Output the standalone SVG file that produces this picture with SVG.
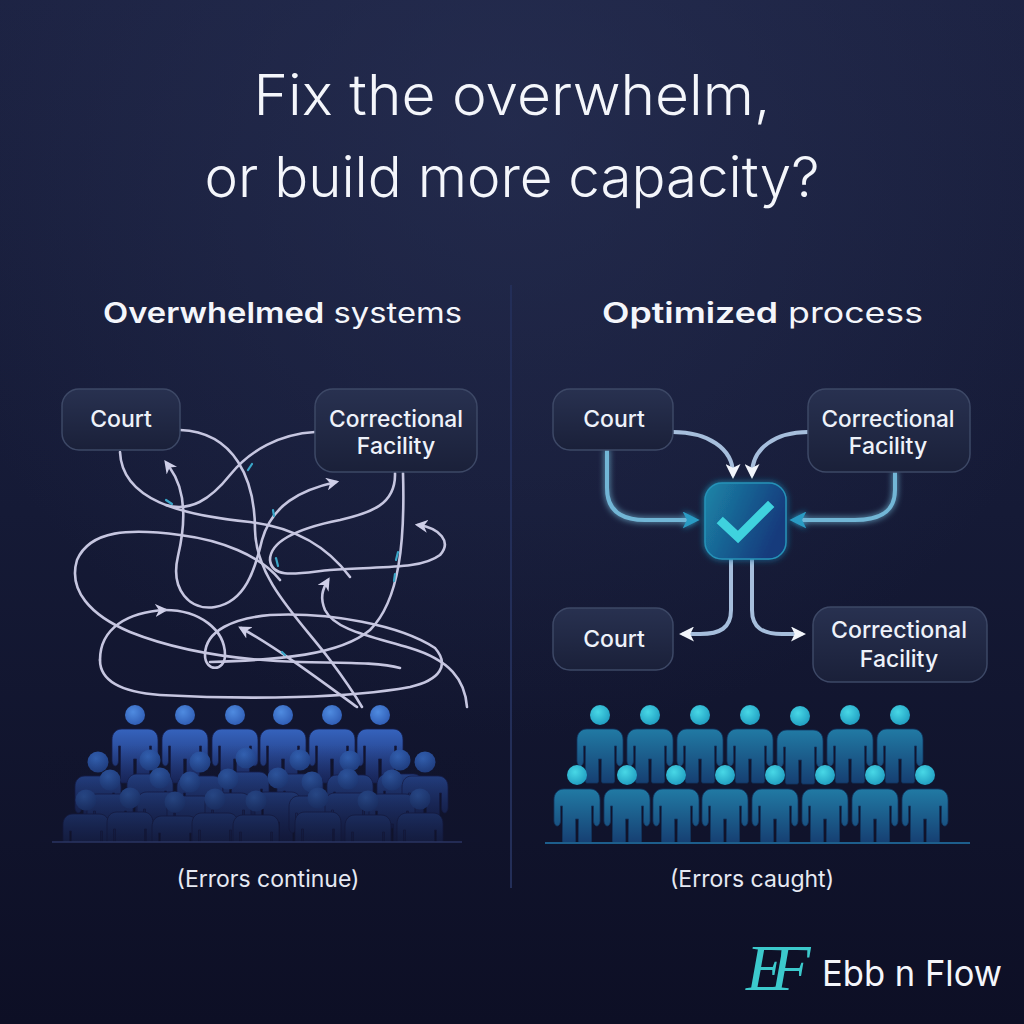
<svg xmlns="http://www.w3.org/2000/svg" width="1024" height="1024" viewBox="0 0 1024 1024">
<defs>
<style>
.ttl{font-family:Inter,"Liberation Sans",sans-serif;font-weight:300;fill:#f4f6fb;text-anchor:middle}
.hdr{font-family:Inter,"Liberation Sans",sans-serif;font-size:28px;fill:#f4f6fb}
.lbl{font-family:Inter,"Liberation Sans",sans-serif;font-size:23px;font-weight:500;fill:#eef2fa;text-anchor:middle}
.cap{font-family:Inter,"Liberation Sans",sans-serif;font-size:23px;fill:#e6e9f3;text-anchor:middle}
.box{fill:url(#gBox);stroke:#3d4866;stroke-width:1.5}
.tg{fill:none;stroke:#c6c6e0;stroke-width:2.6;stroke-linecap:round}
.tq{fill:none;stroke:#3aa6c8;stroke-width:2.2;stroke-linecap:round}
.cw{fill:none;stroke:#a6bedc;stroke-width:4;stroke-linecap:round}
.ct{fill:none;stroke:#72b6d6;stroke-width:4;stroke-linecap:round}
</style>
<linearGradient id="gBg" x1="0" y1="0" x2="0" y2="1">
<stop offset="0" stop-color="#1c2242"/><stop offset="0.5" stop-color="#151a36"/><stop offset="1" stop-color="#0d0f25"/>
</linearGradient>
<radialGradient id="gGlow" cx="0.5" cy="0.12" r="0.6">
<stop offset="0" stop-color="#2a3358" stop-opacity="0.55"/><stop offset="1" stop-color="#2a3358" stop-opacity="0"/>
</radialGradient>
<linearGradient id="gBox" x1="0" y1="0" x2="0" y2="1">
<stop offset="0" stop-color="#283150"/><stop offset="1" stop-color="#1a2039"/>
</linearGradient>
<linearGradient id="gChk" x1="0" y1="0" x2="1" y2="0.4">
<stop offset="0" stop-color="#1c86a8"/><stop offset="1" stop-color="#143a7c"/>
</linearGradient>
<linearGradient id="gBodyL" x1="0" y1="0" x2="0" y2="1">
<stop offset="0" stop-color="#3563bd"/><stop offset="1" stop-color="#1a2a66"/>
</linearGradient>
<radialGradient id="gHeadL" cx="0.4" cy="0.35" r="0.7">
<stop offset="0" stop-color="#4f8be0"/><stop offset="1" stop-color="#2f5cb4"/>
</radialGradient>
<linearGradient id="gBodyS" x1="0" y1="0" x2="0" y2="1">
<stop offset="0" stop-color="#284a96"/><stop offset="1" stop-color="#17235a"/>
</linearGradient>
<radialGradient id="gHeadS" cx="0.4" cy="0.35" r="0.7">
<stop offset="0" stop-color="#3566ba"/><stop offset="1" stop-color="#22448e"/>
</radialGradient>
<linearGradient id="gBodyR" x1="0" y1="0" x2="0" y2="1">
<stop offset="0" stop-color="#217aa4"/><stop offset="1" stop-color="#163f72"/>
</linearGradient>
<radialGradient id="gHeadR" cx="0.4" cy="0.35" r="0.7">
<stop offset="0" stop-color="#48d8e6"/><stop offset="1" stop-color="#1f9cc0"/>
</radialGradient>
<linearGradient id="gFade" x1="0" y1="0" x2="0" y2="1">
<stop offset="0" stop-color="#10132c" stop-opacity="0"/><stop offset="1" stop-color="#10132c" stop-opacity="0.75"/>
</linearGradient>
<filter id="glow" x="-30%" y="-30%" width="160%" height="160%">
<feGaussianBlur stdDeviation="3" result="b"/>
<feMerge><feMergeNode in="b"/><feMergeNode in="SourceGraphic"/></feMerge>
</filter>
<path id="body" d="M-13,14 C-19,14 -23,18 -23,25 L-23,46 C-23,49 -21,51 -19.8,51 C-18.3,51 -16.5,49 -16.5,46 L-16.5,31 L-14.5,31 L-14.5,66 C-14.5,67 -14,68 -13,68 L-3,68 C-2,68 -1.5,67 -1.5,66 L-1.5,44 L1.5,44 L1.5,66 C1.5,67 2,68 3,68 L13,68 C14,68 14.5,67 14.5,66 L14.5,31 L16.5,31 L16.5,46 C16.5,49 18.3,51 19.8,51 C21,51 23,49 23,46 L23,25 C23,18 19,14 13,14 Z"/>
<g id="figL"><use href="#body" fill="url(#gBodyL)" stroke="#16204c" stroke-width="0.8"/><circle r="10" fill="url(#gHeadL)"/></g>
<g id="figS"><use href="#body" fill="url(#gBodyS)" stroke="#162050" stroke-width="0.8"/><circle r="10.5" fill="url(#gHeadS)"/></g>
<g id="figR"><use href="#body" fill="url(#gBodyR)" stroke="#123660" stroke-width="0.8"/><circle r="10" fill="url(#gHeadR)"/></g>
<clipPath id="clipL"><rect x="40" y="690" width="440" height="152"/></clipPath>
<marker id="mL" viewBox="0 0 12 12" refX="9" refY="6" markerWidth="13" markerHeight="13" orient="auto" markerUnits="userSpaceOnUse"><path d="M0,0 L12,6 L0,12 L3.5,6 Z" fill="#cfcfe8"/></marker>
<marker id="mLs" viewBox="0 0 12 12" refX="3" refY="6" markerWidth="13" markerHeight="13" orient="auto-start-reverse" markerUnits="userSpaceOnUse"><path d="M0,0 L12,6 L0,12 L3.5,6 Z" fill="#cfcfe8"/></marker>
<marker id="mW" viewBox="0 0 12 12" refX="8" refY="6" markerWidth="15" markerHeight="15" orient="auto" markerUnits="userSpaceOnUse"><path d="M0,0 L12,6 L0,12 L3,6 Z" fill="#f2f5fb"/></marker>
<marker id="mT" viewBox="0 0 12 12" refX="8" refY="6" markerWidth="17" markerHeight="17" orient="auto" markerUnits="userSpaceOnUse"><path d="M0,0 L12,6 L0,12 L3,6 Z" fill="#2a9cc4"/></marker>
</defs>

<rect width="1024" height="1024" fill="url(#gBg)"/>
<rect width="1024" height="1024" fill="url(#gGlow)"/>

<g id="title">
<text class="ttl" x="512" y="115" font-size="56" textLength="517" lengthAdjust="spacingAndGlyphs">Fix the overwhelm,</text>
<text class="ttl" x="512" y="197" font-size="56" textLength="615" lengthAdjust="spacingAndGlyphs">or build more capacity?</text>
</g>

<line id="divider" x1="511" y1="285" x2="511" y2="888" stroke="#232e58" stroke-width="2"/>

<g id="headers">
<text class="hdr" x="103" y="323" textLength="359" lengthAdjust="spacingAndGlyphs"><tspan font-weight="600">Overwhelmed</tspan> systems</text>
<text class="hdr" x="602" y="323" textLength="321" lengthAdjust="spacingAndGlyphs"><tspan font-weight="600">Optimized</tspan> process</text>
</g>

<!-- LEFT: tangled connectors -->
<g id="connectors-left">
<path class="tg" d="M120,452 C122,500 180,515 250,522 C300,528 330,550 350,577"/>
<path class="tg" d="M180,430 C235,432 255,480 255,530 C256,580 300,620 330,660 C345,680 355,695 362,707"/>
<path class="tg" d="M315,432 C280,434 250,450 230,475 C210,500 190,512 166,505"/>
<path class="tg" marker-start="url(#mLs)" marker-end="url(#mL)" d="M170,468 C186,490 186,522 178,556 C170,590 190,611 215,607 C245,602 255,570 262,540 C272,505 300,490 336,482"/>
<path class="tg" marker-end="url(#mL)" d="M395,473 C396,505 370,513 340,520 C300,528 270,540 270,560 C272,580 300,573 330,570 C380,566 420,570 440,555 C452,542 440,528 418,525"/>
<path class="tg" d="M403,473 C405,540 400,600 370,630 C340,655 280,660 210,662"/>
<path class="tg" d="M280,580 C260,555 220,540 180,535 C130,528 90,530 77,560 C68,590 90,615 130,632 C175,650 230,660 300,662 C340,663 380,662 400,668"/>
<path class="tg" marker-end="url(#mL)" d="M100,660 C100,628 128,612 165,610"/>
<path class="tg" d="M165,610 C200,610 225,630 225,655 C225,672 205,672 205,655 C205,630 235,618 270,615 C330,612 400,625 435,648 C450,665 440,680 410,687 C350,698 250,700 160,695 C120,692 100,680 100,660"/>
<path class="tg" marker-end="url(#mL)" d="M357,707 C320,680 280,650 241,628"/>
<path class="tg" marker-end="url(#mL)" d="M467,707 C465,680 450,660 410,648 C370,636 335,630 325,610 C320,598 322,590 328,580"/>
<path class="tq" d="M248,470 l4,-6"/>
<path class="tq" d="M166,500 l6,4"/>
<path class="tq" d="M273,510 l1,6"/>
<path class="tq" d="M276,558 l2,8"/>
<path class="tq" d="M398,552 l-2,8"/>
<path class="tq" d="M395,574 l-1,7"/>
<path class="tq" d="M282,652 l3,3"/>
</g>

<!-- LEFT nodes -->
<g id="node-court-left">
<rect class="box" x="62" y="389" width="118" height="61" rx="17"/>
<text class="lbl" x="121" y="427">Court</text>
</g>
<g id="node-correctional-left">
<rect class="box" x="315" y="389" width="162" height="83" rx="18"/>
<text class="lbl" x="396" y="427" textLength="134" lengthAdjust="spacingAndGlyphs">Correctional</text>
<text class="lbl" x="396" y="454">Facility</text>
</g>

<!-- LEFT crowd -->
<g id="crowd-left" clip-path="url(#clipL)">
<use href="#figL" x="135" y="715"/>
<use href="#figL" x="185" y="715"/>
<use href="#figL" x="235" y="715"/>
<use href="#figL" x="283" y="715"/>
<use href="#figL" x="332" y="715"/>
<use href="#figL" x="380" y="715"/>
<use href="#figS" x="98" y="762"/>
<use href="#figS" x="150" y="760"/>
<use href="#figS" x="200" y="762"/>
<use href="#figS" x="246" y="758"/>
<use href="#figS" x="300" y="760"/>
<use href="#figS" x="350" y="761"/>
<use href="#figS" x="400" y="760"/>
<use href="#figS" x="425" y="762"/>
<use href="#figS" x="110" y="780"/>
<use href="#figS" x="160" y="778"/>
<use href="#figS" x="190" y="782"/>
<use href="#figS" x="228" y="779"/>
<use href="#figS" x="278" y="778"/>
<use href="#figS" x="312" y="782"/>
<use href="#figS" x="348" y="779"/>
<use href="#figS" x="392" y="780"/>
<use href="#figS" x="86" y="800"/>
<use href="#figS" x="130" y="798"/>
<use href="#figS" x="175" y="802"/>
<use href="#figS" x="215" y="799"/>
<use href="#figS" x="256" y="801"/>
<use href="#figS" x="318" y="798"/>
<use href="#figS" x="368" y="801"/>
<use href="#figS" x="420" y="799"/>
<rect x="40" y="745" width="440" height="97" fill="url(#gFade)"/>
</g>
<line x1="52" y1="842" x2="462" y2="842" stroke="#2a3462" stroke-width="1.5"/>

<!-- RIGHT connectors -->
<g id="connectors-right">
<path class="cw" marker-end="url(#mW)" d="M673,432 C707,432 733,448 733,474"/>
<path class="cw" marker-end="url(#mW)" d="M808,432 C776,432 752,448 752,474"/>
<path class="ct" filter="url(#glow)" marker-end="url(#mT)" d="M607,450 L607,488 C607,510 620,520 645,520 L694,520"/>
<path class="ct" filter="url(#glow)" marker-end="url(#mT)" d="M895,472 L895,490 C895,512 880,520 855,520 L795,520"/>
<path class="cw" marker-end="url(#mW)" d="M731,559 L731,610 C731,628 720,634 700,634 L684,634"/>
<path class="cw" marker-end="url(#mW)" d="M752,559 L752,610 C752,628 763,634 782,634 L801,634"/>
</g>

<!-- RIGHT nodes -->
<g id="node-court-right">
<rect class="box" x="553" y="389" width="120" height="61" rx="17"/>
<text class="lbl" x="614" y="427">Court</text>
</g>
<g id="node-correctional-right">
<rect class="box" x="808" y="389" width="162" height="83" rx="18"/>
<text class="lbl" x="888" y="427" textLength="133" lengthAdjust="spacingAndGlyphs">Correctional</text>
<text class="lbl" x="888" y="454">Facility</text>
</g>
<g id="node-check">
<rect x="705" y="483" width="81" height="76" rx="17" fill="url(#gChk)" stroke="#2592b8" stroke-width="1.5" filter="url(#glow)"/>
<path d="M723,523 L738,537 L768,507" fill="none" stroke="#3fd2de" stroke-width="9" stroke-linecap="square" stroke-linejoin="miter"/>
</g>
<g id="node-court-out">
<rect class="box" x="553" y="608" width="120" height="62" rx="17"/>
<text class="lbl" x="614" y="647">Court</text>
</g>
<g id="node-correctional-out">
<rect class="box" x="813" y="607" width="174" height="75" rx="18"/>
<text class="lbl" x="899" y="638" font-size="22" textLength="136" lengthAdjust="spacingAndGlyphs">Correctional</text>
<text class="lbl" x="899" y="667" font-size="22">Facility</text>
</g>

<!-- RIGHT crowd -->
<g id="crowd-right">
<use href="#figR" x="600" y="715"/>
<use href="#figR" x="650" y="715"/>
<use href="#figR" x="700" y="715"/>
<use href="#figR" x="750" y="715"/>
<use href="#figR" x="800" y="716"/>
<use href="#figR" x="850" y="715"/>
<use href="#figR" x="900" y="715"/>
<use href="#figR" x="577" y="775"/>
<use href="#figR" x="627" y="775"/>
<use href="#figR" x="676" y="775"/>
<use href="#figR" x="725" y="775"/>
<use href="#figR" x="775" y="775"/>
<use href="#figR" x="825" y="775"/>
<use href="#figR" x="875" y="775"/>
<use href="#figR" x="925" y="775"/>
</g>
<line x1="545" y1="843" x2="970" y2="843" stroke="#1d5e8c" stroke-width="2"/>

<g id="captions">
<text class="cap" x="268" y="887">(Errors continue)</text>
<text class="cap" x="752" y="887">(Errors caught)</text>
</g>

<g id="logo">
<text x="746" y="990" font-family="'Liberation Serif',serif" font-style="italic" font-size="66" fill="#3cc9cc" letter-spacing="-16">EF</text>
<text x="822" y="986" font-family="Inter,'Liberation Sans',sans-serif" font-size="36" fill="#f4f6fb" textLength="180" lengthAdjust="spacingAndGlyphs">Ebb n Flow</text>
</g>
</svg>
